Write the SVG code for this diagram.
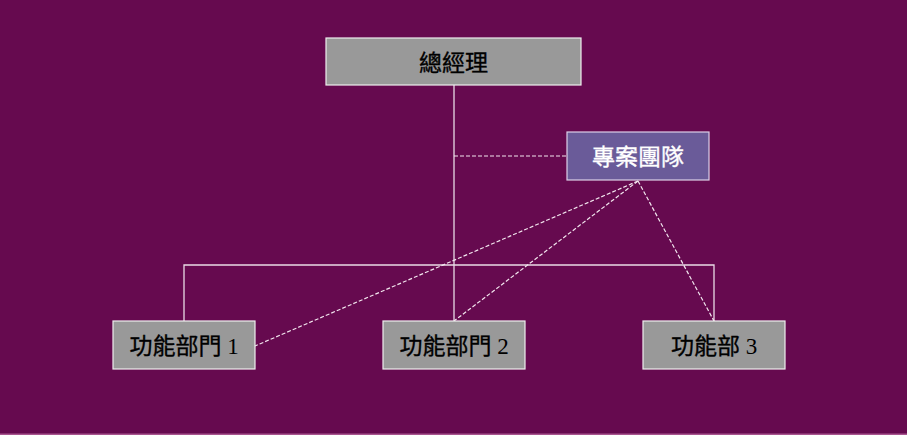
<svg xmlns="http://www.w3.org/2000/svg" width="907" height="435" viewBox="0 0 907 435">
<style>
.box{fill:#999999;stroke:#eeeeee;stroke-width:1.2}
.team{fill:#6a5b99;stroke:#ddd0e8;stroke-width:1.2}
.ln{fill:none;stroke:#eadbe6;stroke-width:1.3}
.dl{fill:none;stroke:#f2e6ee;stroke-width:1.2;stroke-dasharray:4,2}
text{font-family:"Noto Sans CJK TC","Liberation Sans",sans-serif;font-size:23px;font-weight:400;text-anchor:middle;fill:#000;stroke:#000;stroke-width:0.35}
.num{font-family:"Liberation Serif",serif;font-size:23px;stroke-width:0}
.w{fill:#ffffff;stroke:#ffffff}
</style>
<rect x="0" y="0" width="907" height="435" fill="#660a4f"/>
<rect x="0" y="433.5" width="907" height="1.5" fill="#a8548f"/>
<g id="connectors">
<path class="ln" d="M454,85 V321"/>
<path class="ln" d="M184,321 V265 H714 V321"/>
<path class="dl" d="M454,156 H567"/>
<path class="dl" d="M638,181 L255,346"/>
<path class="dl" d="M638,181 L454,321"/>
<path class="dl" d="M638,181 L714,321"/>
</g>
<g id="gm">
<rect class="box" x="326" y="38" width="255" height="47"/>
<text x="453.5" y="71">總經理</text>
</g>
<g id="team">
<rect class="team" x="567" y="132" width="142" height="48"/>
<text class="w" x="638" y="165">專案團隊</text>
</g>
<g id="dept1">
<rect class="box" x="113" y="321" width="142" height="48"/>
<text x="184" y="354">功能部門<tspan class="num"> 1</tspan></text>
</g>
<g id="dept2">
<rect class="box" x="383" y="321" width="142" height="48"/>
<text x="454" y="354">功能部門<tspan class="num"> 2</tspan></text>
</g>
<g id="dept3">
<rect class="box" x="643" y="321" width="142" height="48"/>
<text x="714" y="354">功能部<tspan class="num"> 3</tspan></text>
</g>
</svg>
